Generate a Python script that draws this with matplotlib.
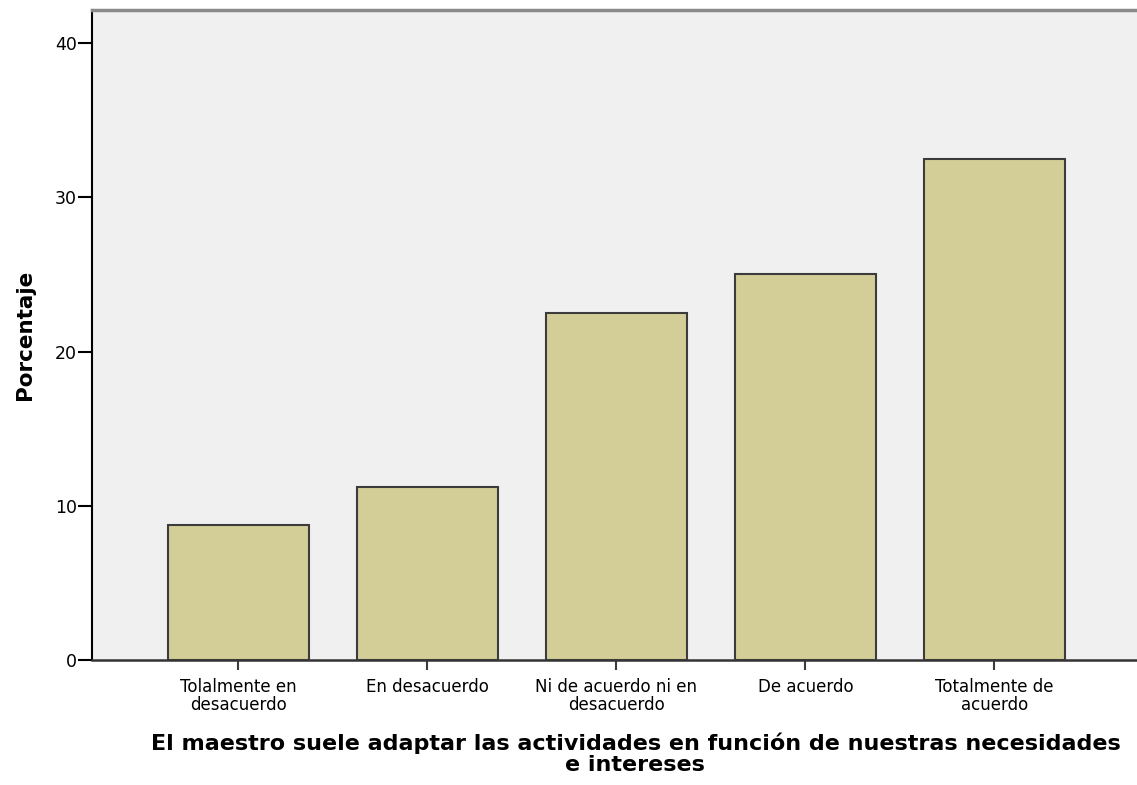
import matplotlib.pyplot as plt
import numpy as np

plt.rcParams['font.family'] = ['DejaVu Sans']

categories = ['Tolalmente en\ndesacuerdo', 'En desacuerdo', 'Ni de acuerdo ni en\ndesacuerdo',
              'De acuerdo', 'Totalmente de\nacuerdo']
percent = [8.75, 11.25, 22.5, 25.0, 32.5]
yticks = [0, 10, 20, 30, 40]

fig = plt.figure(figsize=(11.37, 7.85), dpi=100)
ax = fig.add_axes([92 / 1137, 125 / 785, 1 - 92 / 1137, 650 / 785])
ax.set_facecolor('#f0f0f0')

x = np.arange(len(categories))
ax.bar(x, percent, width=0.745, color='#d3ce97', edgecolor='#3c3c3c', linewidth=1.5, zorder=3)

ax.set_xlim(-0.775, 4.754)
ax.set_ylim(0, 42.15)
ax.set_yticks(yticks)
ax.set_xticks(x)
ax.set_xticklabels(categories, fontsize=12, linespacing=1.0)
ax.tick_params(axis='y', labelsize=12.5, length=10, width=1.5, pad=1)
ax.tick_params(axis='x', length=7, width=1.5, pad=6, color='#3c3c3c')

ax.spines['right'].set_visible(False)
ax.spines['top'].set_color('#8a8a8a')
ax.spines['top'].set_linewidth(2.5)
ax.spines['left'].set_linewidth(1.5)
ax.spines['bottom'].set_linewidth(1.8)
ax.spines['bottom'].set_color('#333333')

ax.set_ylabel('Porcentaje', fontsize=15.5, fontweight='bold')
ax.yaxis.set_label_coords(-0.055, 0.5)
ax.set_xlabel('El maestro suele adaptar las actividades en función de nuestras necesidades\ne intereses',
              fontsize=16, fontweight='bold', linespacing=1.02)
ax.xaxis.set_label_coords(0.52, -0.112)
ax.xaxis.label.set_verticalalignment('top')

plt.savefig('out.png', dpi=100)
